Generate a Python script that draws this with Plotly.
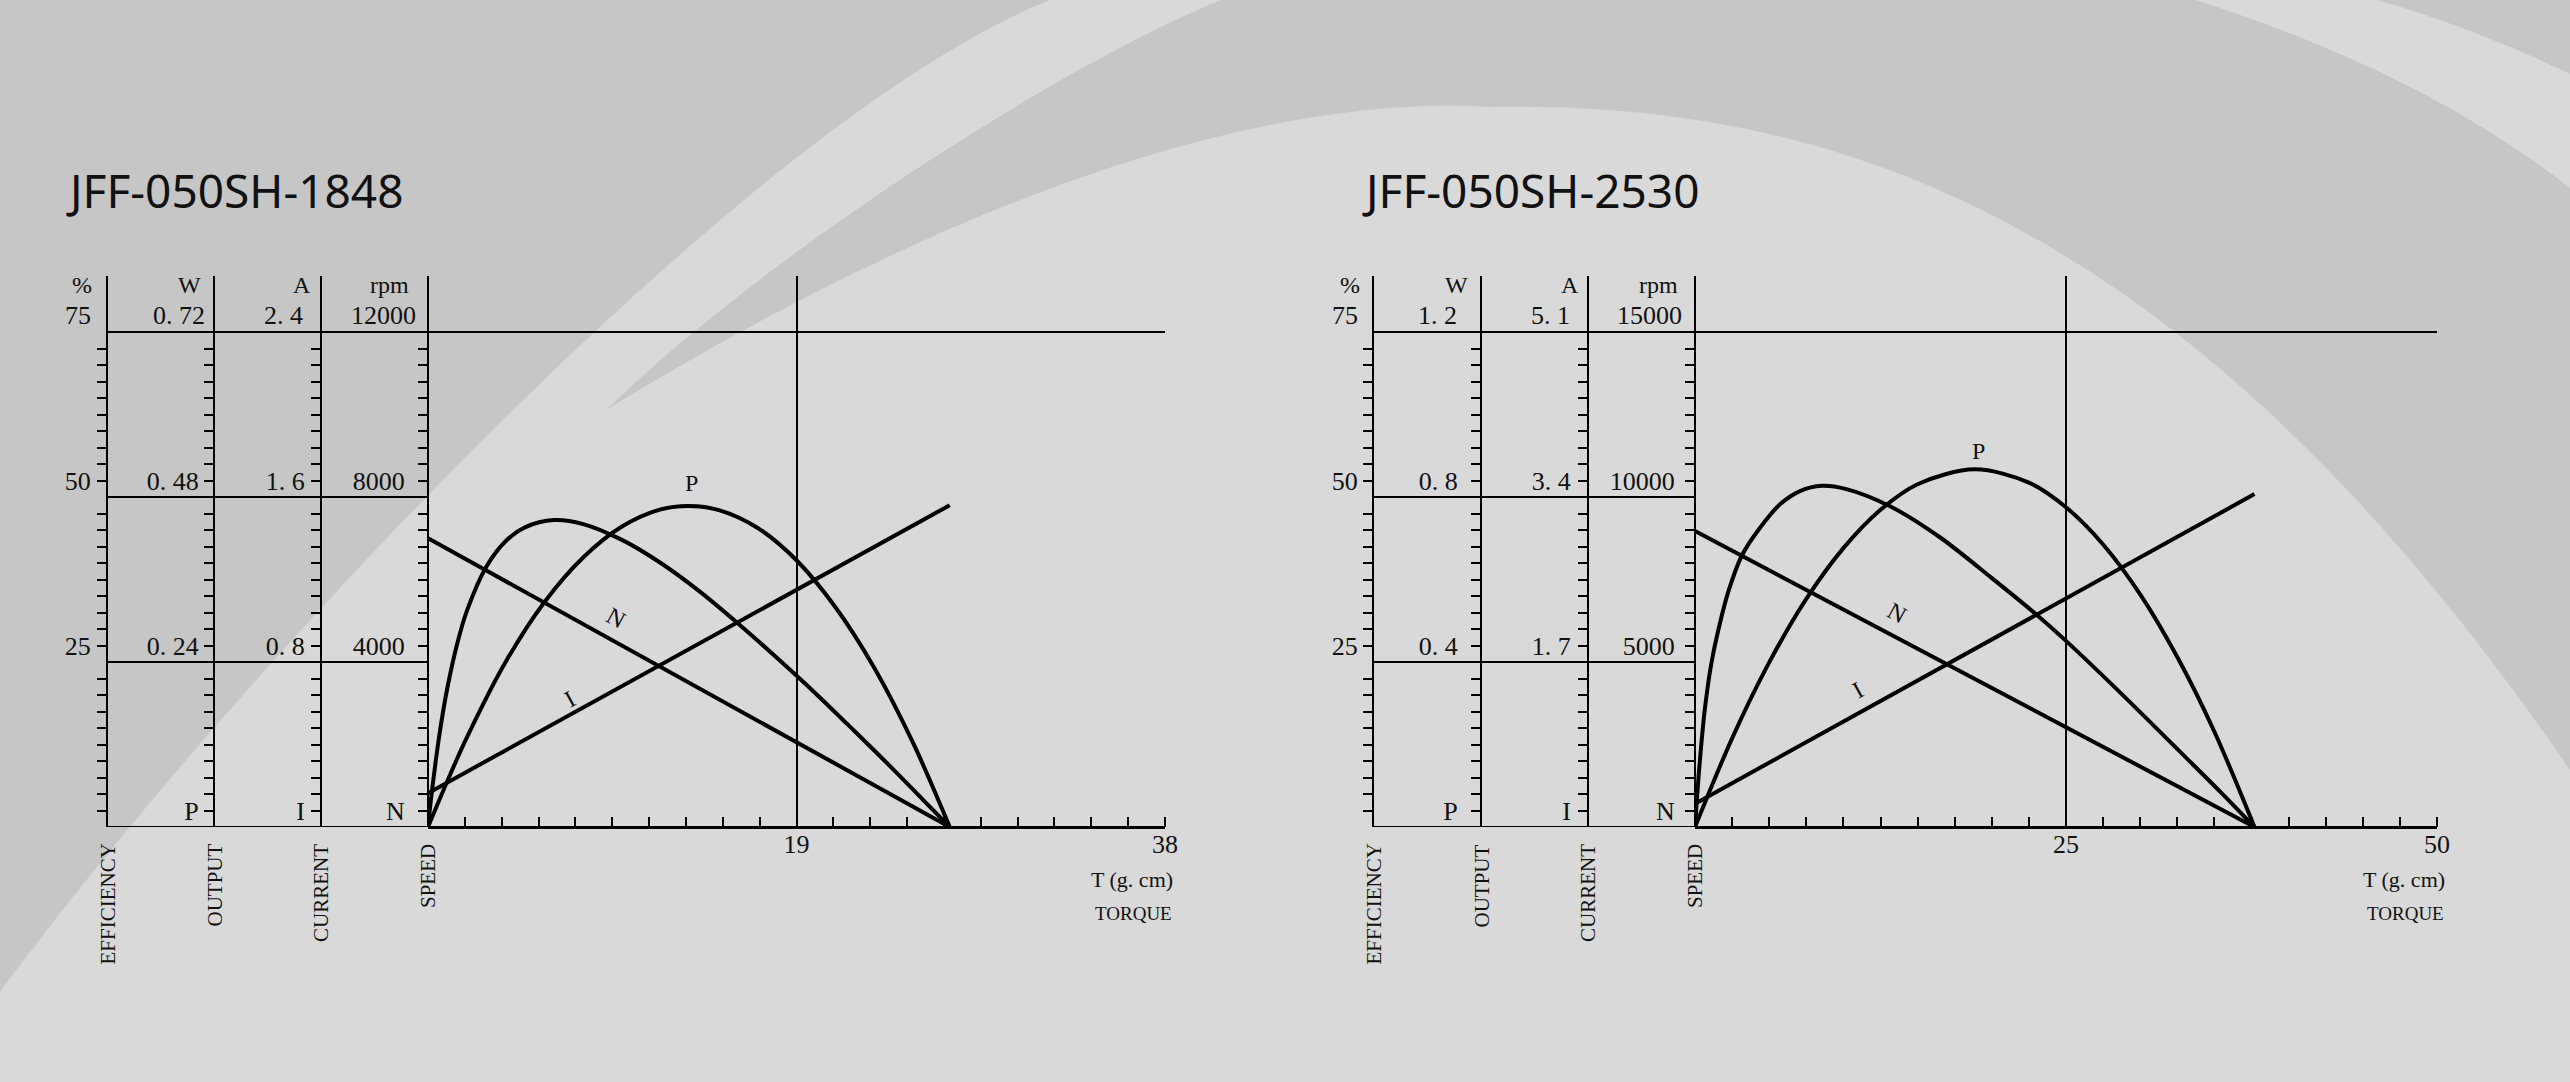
import plotly.graph_objects as go

W, H = 2570, 1082

# ------------------------------------------------------------------ data
TITLES = ["JFF-050SH-1848", "JFF-050SH-2530"]

# left motor (JFF-050SH-1848)
T_MAX_L = 38
T_LABELS_L = [19, 38]
TOP_L = [75, 0.72, 2.4, 12000]            # %, W, A, rpm at the top grid line
PCT_TEXT_L = ["", "25", "50"]
W_TEXT_L = ["P", "0. 24", "0. 48"]
A_TEXT_L = ["I", "0. 8", "1. 6"]
RPM_TEXT_L = ["N", "4000", "8000"]
TOP_TEXT_L = ["75", "0. 72", "2. 4", "12000"]

EFF_T_L = [0, 0.19, 0.6, 1.0, 1.5, 2.0, 3.0, 4.0, 5.0, 6.5, 8.0, 10, 12, 14, 16, 18, 20, 22, 24, 25.5, 26.9]
EFF_L = [0, 5.1, 14.2, 21.1, 27.7, 32.7, 39.4, 43.3, 45.4, 46.5, 45.9, 43.5, 40.0, 35.7, 30.8, 25.6, 20.2, 14.5, 8.7, 4.2, 0]
P_T_L = [0, 1, 2, 4, 6, 8, 10, 12, 13.45, 15, 17, 19, 21, 23, 25, 26.9]
P_L = [0, 0.067, 0.13, 0.24, 0.327, 0.392, 0.437, 0.462, 0.467, 0.461, 0.435, 0.388, 0.32, 0.232, 0.123, 0]
N_T_L = [0, 26.9]
N_L = [7000, 0]
I_T_L = [0, 26.9]
I_L = [0.164, 1.56]

# right motor (JFF-050SH-2530)
T_MAX_R = 50
T_LABELS_R = [25, 50]
TOP_R = [75, 1.2, 5.1, 15000]
PCT_TEXT_R = ["", "25", "50"]
W_TEXT_R = ["P", "0. 4", "0. 8"]
A_TEXT_R = ["I", "1. 7", "3. 4"]
RPM_TEXT_R = ["N", "5000", "10000"]
TOP_TEXT_R = ["75", "1. 2", "5. 1", "15000"]

EFF_T_R = [0, 0.29, 0.67, 1.12, 1.64, 2.25, 3.15, 4.27, 5.73, 7.08, 8.54, 10.2, 13.14, 16.5, 19.9, 23.0, 25.0, 28.5, 33.0, 35.5, 37.7]
EFF_R = [0, 9.0, 18.0, 25.0, 30.5, 35.7, 41.1, 45.0, 48.9, 50.9, 51.7, 51.2, 48.6, 43.9, 37.9, 32.2, 28.2, 20.7, 10.7, 5.1, 0]
P_T_R = [0, 2.5, 5, 7.5, 10, 12.5, 15, 18.85, 22.5, 25, 27.5, 30, 32.5, 35, 37.7]
P_R = [0, 0.215, 0.399, 0.553, 0.676, 0.769, 0.831, 0.867, 0.835, 0.775, 0.685, 0.564, 0.412, 0.231, 0]
N_T_R = [0, 37.7]
N_R = [8970, 0]
I_T_R = [0, 37.7]
I_R = [0.24, 3.43]

UNITS = ["%", "W", "A", "rpm"]
AXIS_NAMES = ["EFFICIENCY", "OUTPUT", "CURRENT", "SPEED"]

# ------------------------------------------------------------------ layout helpers
SERIF = "Liberation Serif"
SANS = "Noto Sans"
DARK = "#c6c6c6"
LIGHT = "#d9d9d9"
INK = "#111111"

def fx(x):
    return x / W

def fy(y):
    return 1 - y / H

Y_BOT, Y_TOP, Y_75 = 827, 276, 332
PX_PER_PCT = (Y_BOT - Y_75) / 75.0
R_PCT = (Y_BOT - Y_TOP) / PX_PER_PCT
YDOM = [fy(Y_BOT), fy(Y_TOP)]

# tick positions (in % units) – the printed scale sits one minor step above the grid
TICK_POS = [2.5 * k for k in range(1, 30) if k % 10 != 0]
LABEL_POS = [2.5, 27.5, 52.5]

charts = [
    dict(title=TITLES[0], title_x=64, axes_x=[107, 214, 321, 428], right=1165,
         tmax=T_MAX_L, tlabels=T_LABELS_L, top=TOP_L,
         texts=[PCT_TEXT_L, W_TEXT_L, A_TEXT_L, RPM_TEXT_L], top_text=TOP_TEXT_L,
         top_right=[93, 207, 305, 418], unit_cx=[82, 189, 302, 390],
         standoff=[1, 0, 1, 8],
         series=[(EFF_T_L, EFF_L), (P_T_L, P_L), (I_T_L, I_L), (N_T_L, N_L)],
         labels=[("P", 13.6, 0.50, 1, 0), ("N", 9.68, 5056, 3, 29), ("I", 7.32, 0.62, 2, -29)],
         tick_step=1.9, tlabel_right=1175),
    dict(title=TITLES[1], title_x=1360, axes_x=[1373, 1481, 1588, 1695], right=2437,
         tmax=T_MAX_R, tlabels=T_LABELS_R, top=TOP_R,
         texts=[PCT_TEXT_R, W_TEXT_R, A_TEXT_R, RPM_TEXT_R], top_text=TOP_TEXT_R,
         top_right=[1360, 1459, 1572, 1684], unit_cx=[1350, 1456, 1570, 1658],
         standoff=[0, 8, 2, 5],
         series=[(EFF_T_R, EFF_R), (P_T_R, P_R), (I_T_R, I_R), (N_T_R, N_R)],
         labels=[("P", 19.1, 0.912, 1, 0), ("N", 13.6, 6475, 3, 29), ("I", 11.0, 1.41, 2, -29)],
         tick_step=2.5, tlabel_right=2447),
]

fig = go.Figure()
layout = dict(width=W, height=H, margin=dict(l=0, r=0, t=0, b=0, pad=0, autoexpand=False),
              paper_bgcolor=LIGHT, plot_bgcolor="rgba(0,0,0,0)", showlegend=False)
annotations = []
shapes = []

# ------------------------------------------------------------------ background decoration
def path(cmds):
    out = []
    for c in cmds:
        if isinstance(c, str):
            out.append(c)
        else:
            out.append(f"{fx(c[0]):.5f},{fy(c[1]):.5f}")
    return " ".join(out)

shapes.append(dict(type="path", xref="paper", yref="paper", layer="below", line=dict(width=0),
                   fillcolor=DARK,
                   path=path(["M", (0, 0), "L", (1050, 0), "C", (750, 120), (230, 680), (0, 992), "Z"])))
shapes.append(dict(type="path", xref="paper", yref="paper", layer="below", line=dict(width=0),
                   fillcolor=DARK,
                   path=path(["M", (606, 410), "C", (850, 260), (1200, 90), (1491, 107),
                              "C", (1850, 100), (2200, 230), (2570, 770),
                              "L", (2570, 0), "L", (1221, 0),
                              "C", (1050, 70), (760, 260), (606, 410), "Z"])))
shapes.append(dict(type="path", xref="paper", yref="paper", layer="below", line=dict(width=0),
                   fillcolor=LIGHT,
                   path=path(["M", (2196, 0), "C", (2350, 50), (2470, 110), (2570, 188),
                              "L", (2570, 74), "C", (2500, 40), (2430, 15), (2377, 0), "Z"])))

# ------------------------------------------------------------------ charts
for ci, ch in enumerate(charts):
    xname = "xaxis" if ci == 0 else "xaxis2"
    xref = "x" if ci == 0 else "x2"
    ybase = 1 + 4 * ci
    ynames = [f"yaxis{ybase + k}" if ybase + k > 1 else "yaxis" for k in range(4)]
    yrefs = [f"y{ybase + k}" if ybase + k > 1 else "y" for k in range(4)]
    x0px = ch["axes_x"][3]

    layout[xname] = dict(
        domain=[fx(x0px), fx(ch["right"])], range=[0, ch["tmax"]], anchor=yrefs[0],
        showline=True, linecolor="black", linewidth=2, zeroline=False, automargin=False,
        tickmode="array", tickvals=ch["tlabels"], ticktext=[str(v) for v in ch["tlabels"]],
        ticks="", showgrid=True, gridcolor="black", gridwidth=2,
        tickfont=dict(family=SERIF, size=26, color=INK), ticklabelstandoff=-7,
        minor=dict(tickmode="linear", tick0=0, dtick=ch["tick_step"], ticks="inside",
                   ticklen=10, tickwidth=2, tickcolor="black", showgrid=False),
        fixedrange=True)

    for k in range(4):
        factor = ch["top"][k] / 75.0
        ticktext = [""] * len(TICK_POS)
        for pos, txt in zip(LABEL_POS, ch["texts"][k]):
            ticktext[TICK_POS.index(pos)] = txt
        ax = dict(domain=YDOM, range=[0, R_PCT * factor], anchor="free",
                  position=fx(ch["axes_x"][k]), side="left", automargin=False,
                  showline=True, linecolor="black", linewidth=2.2, showgrid=False, zeroline=False,
                  ticks="outside", ticklen=9, tickwidth=2, tickcolor="black",
                  tickmode="array", tickvals=[p * factor for p in TICK_POS], ticktext=ticktext,
                  tickfont=dict(family=SERIF, size=26, color=INK),
                  ticklabelstandoff=ch["standoff"][k], fixedrange=True)
        if k > 0:
            ax["overlaying"] = yrefs[0]
        layout[ynames[k]] = ax

        # top value and unit label
        annotations.append(dict(text=ch["top_text"][k], xref="paper", yref=yrefs[k],
                                x=fx(ch["top_right"][k]), y=77.5 * factor, xanchor="right",
                                yanchor="middle", showarrow=False,
                                font=dict(family=SERIF, size=26, color=INK)))
        annotations.append(dict(text=UNITS[k], xref="paper", yref=yrefs[k],
                                x=fx(ch["unit_cx"][k]), y=82.1 * factor, xanchor="center",
                                yanchor="middle", showarrow=False,
                                font=dict(family=SERIF, size=24, color=INK)))
        # rotated axis names
        annotations.append(dict(text=AXIS_NAMES[k], xref="paper", yref="paper",
                                x=fx(ch["axes_x"][k]), y=fy(842), xanchor="center", yanchor="top",
                                textangle=-90, showarrow=False,
                                font=dict(family=SERIF, size=21, color=INK)))

    # grid lines (horizontal)
    for val, xr in [(0, ch["right"]), (25, x0px), (50, x0px), (75, ch["right"])]:
        shapes.append(dict(type="line", xref="paper", yref=yrefs[0],
                           x0=fx(ch["axes_x"][0]), x1=fx(xr), y0=val, y1=val,
                           line=dict(color="black", width=2), layer="above"))

    # curves: efficiency on %, output on W, current on A, speed on rpm
    for k, (tx, ty) in enumerate(ch["series"]):
        fig.add_trace(go.Scatter(x=tx, y=ty, mode="lines", xaxis=xref, yaxis=yrefs[k],
                                 line=dict(color="black", width=4,
                                           shape="spline" if len(tx) > 2 else "linear",
                                           smoothing=0.9),
                                 hoverinfo="skip", showlegend=False))

    # curve labels
    for txt, lx, ly, k, ang in ch["labels"]:
        annotations.append(dict(text=txt, xref=xref, yref=yrefs[k], x=lx, y=ly,
                                showarrow=False, textangle=ang,
                                font=dict(family=SERIF, size=24, color=INK)))

    # torque captions
    annotations.append(dict(text="T (g. cm)", xref="paper", yref="paper",
                            x=fx(ch["tlabel_right"]), y=fy(879), xanchor="right", yanchor="middle",
                            showarrow=False, font=dict(family=SERIF, size=22, color=INK)))
    annotations.append(dict(text="TORQUE", xref="paper", yref="paper",
                            x=fx(ch["tlabel_right"] - 82), y=fy(913), xanchor="left", yanchor="middle",
                            showarrow=False, font=dict(family=SERIF, size=19, color=INK)))
    # title
    annotations.append(dict(text=ch["title"], xref="paper", yref="paper",
                            x=fx(ch["title_x"]), y=fy(190), xanchor="left", yanchor="middle",
                            showarrow=False, font=dict(family=SANS, size=46, color=INK)))

layout["annotations"] = annotations
layout["shapes"] = shapes
fig.update_layout(**layout)

# page CSS (no body margin) is emitted as its own <style> element right after the plot script
PAGE_CSS = ("});}</script><style>html,body{margin:0;padding:0;overflow:hidden;"
            "background:#d9d9d9;}</style><script>if(1){(function(){")
fig.write_html("out.html", config={"displayModeBar": False, "staticPlot": True},
               post_script=PAGE_CSS)
